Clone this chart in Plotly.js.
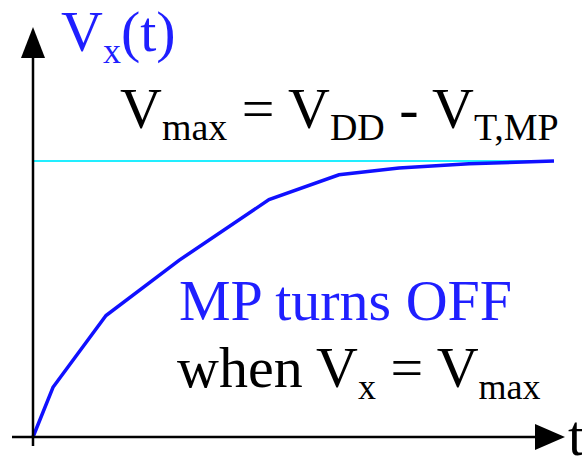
<!DOCTYPE html>
<html>
<head>
<meta charset="utf-8">
<script src="https://cdn.plot.ly/plotly-3.0.1.min.js"></script>
<style>html,body{margin:0;padding:0;background:#fff;}#chart{width:582px;height:458px;}</style>
</head>
<body>
<div id="chart"></div>
<script>
// Data (arbitrary units): time t and normalized voltage Vx(t), Vmax = 1
const tValues = [0, 0.2, 0.73, 1.46, 2.36, 3.06, 3.66, 4.36, 5.21];
const vxValues = [0, 0.18, 0.44, 0.64, 0.86, 0.95, 0.975, 0.99, 1.0];
const vmaxLevel = 1.0;
const vmaxSpan = [0, 5.21];

// Pixel helpers for decorations (axes drawn as arrows) and text placement
const W = 582, H = 458;
const X = px => -0.33 + px / 100;
const Y = py => (437 - py) / 276;
const PX = px => px / W;
const PY = py => 1 - py / H;

const serif = "'Liberation Serif', 'Liberation Sans', serif";
const blue = '#1f1fff';

const traces = [
  {x: vmaxSpan, y: [vmaxLevel, vmaxLevel], mode: 'lines', line: {color: '#22eeff', width: 2.2}, hoverinfo: 'skip'},
  {x: tValues, y: vxValues, mode: 'lines', line: {color: '#1010ff', width: 3.5}, hoverinfo: 'skip'}
];

const shapes = [
  {type: 'line', x0: X(33), x1: X(33), y0: Y(446), y1: Y(55), line: {color: '#000', width: 2.5}},
  {type: 'line', x0: X(12), x1: X(538), y0: Y(437), y1: Y(437), line: {color: '#000', width: 2.5}},
  {type: 'path', path: `M ${X(33)} ${Y(27)} L ${X(21)} ${Y(58)} L ${X(45)} ${Y(58)} Z`, fillcolor: '#000', line: {width: 0}},
  {type: 'path', path: `M ${X(565)} ${Y(437)} L ${X(535)} ${Y(424)} L ${X(535)} ${Y(450)} Z`, fillcolor: '#000', line: {width: 0}}
];

const sub = (s, size) => `<sub><span style="font-size:${size}px">${s}</span></sub>`;
const ann = (text, px, py, color) => ({
  text, x: PX(px), y: PY(py), xref: 'paper', yref: 'paper', xanchor: 'left', yanchor: 'top',
  showarrow: false, font: {family: serif, size: 58, color}, borderpad: 0
});

const annotations = [
  ann('V' + sub('x', 36) + '(t)', 60, -2, blue),
  ann('V' + sub('max', 38) + ' = V' + sub('DD', 38) + ' - V' + sub('T,MP', 38), 119, 75, '#000'),
  ann('MP turns OFF', 178, 267, blue),
  ann('when V' + sub('x', 36) + ' = V' + sub('max', 36), 176, 334, '#000'),
  ann('t', 567, 402, '#000')
];

const layout = {
  width: W, height: H,
  margin: {l: 0, r: 0, t: 0, b: 0},
  paper_bgcolor: '#fff', plot_bgcolor: '#fff',
  showlegend: false,
  xaxis: {range: [X(0), X(W)], visible: false, fixedrange: true},
  yaxis: {range: [Y(H), Y(0)], visible: false, fixedrange: true},
  shapes, annotations
};

Plotly.newPlot('chart', traces, layout, {displayModeBar: false, staticPlot: true});
</script>
</body>
</html>
